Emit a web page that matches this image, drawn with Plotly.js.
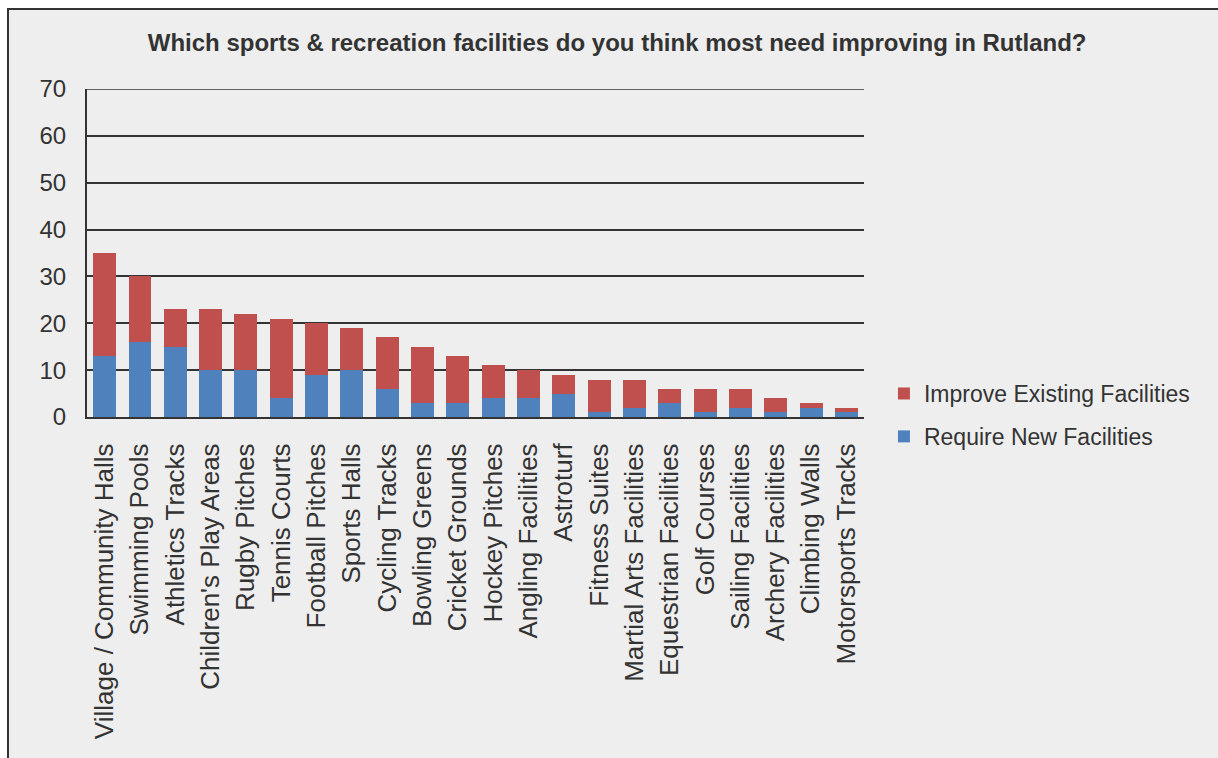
<!DOCTYPE html>
<html>
<head>
<meta charset="utf-8">
<script src="https://cdn.plot.ly/plotly-3.0.1.min.js"></script>
<style>
  html, body { margin: 0; padding: 0; background: #ffffff; width: 1218px; height: 758px; overflow: hidden; }
  #wrap { position: absolute; left: 7px; top: 8px; border-top: 2px solid #333; border-left: 2px solid #333; background: #eeeeee; }
  #chart { width: 1209px; height: 748px; }
</style>
</head>
<body>
<div id="wrap"><div id="chart"></div></div>
<script>
const categories = [
  "Village / Community Halls", "Swimming Pools", "Athletics Tracks", "Children's Play Areas",
  "Rugby Pitches", "Tennis Courts", "Football Pitches", "Sports Halls", "Cycling Tracks",
  "Bowling Greens", "Cricket Grounds", "Hockey Pitches", "Angling Facilities", "Astroturf",
  "Fitness Suites", "Martial Arts Facilities", "Equestrian Facilities", "Golf Courses",
  "Sailing Facilities", "Archery Facilities", "Climbing Walls", "Motorsports Tracks"
];
const requireNew = [13, 16, 15, 10, 10, 4, 9, 10, 6, 3, 3, 4, 4, 5, 1, 2, 3, 1, 2, 1, 2, 1];
const improveExisting = [22, 14, 8, 13, 12, 17, 11, 9, 11, 12, 10, 7, 6, 4, 7, 6, 3, 5, 4, 3, 1, 1];
const yTicks = [0, 10, 20, 30, 40, 50, 60, 70];

const FONT = "Liberation Sans, Arial, sans-serif";

const traces = [
  {
    type: "bar", name: "Require New Facilities", x: categories, y: requireNew,
    marker: { color: "#4F81BD" }, legendgroup: "b", legendrank: 2, hoverinfo: "x+y+name"
  },
  {
    type: "bar", name: "Improve Existing Facilities", x: categories, y: improveExisting,
    marker: { color: "#C0504D" }, legendgroup: "a", legendrank: 1, hoverinfo: "x+y+name"
  }
];

const layout = {
  width: 1209, height: 748,
  paper_bgcolor: "#eeeeee", plot_bgcolor: "#eeeeee",
  margin: { l: 78, r: 354, t: 79, b: 341 },
  barmode: "stack", bargap: 0.35,
  font: { family: FONT, color: "#333333" },
  title: {
    text: "<b>Which sports & recreation facilities do you think most need improving in Rutland?</b>",
    font: { family: FONT, size: 24, color: "#333333" },
    xref: "container", x: 0.503, xanchor: "center",
    yref: "container", y: 0.956, yanchor: "middle"
  },
  xaxis: {
    type: "category", tickangle: -90, showgrid: false,
    showline: true, linecolor: "#333333", linewidth: 2,
    ticks: "", tickfont: { family: FONT, size: 26, color: "#333333" },
    ticklabelstandoff: 14, fixedrange: true
  },
  yaxis: {
    range: [0, 70], tickvals: yTicks, ticktext: yTicks.map(String),
    showgrid: true, gridcolor: "#333333", gridwidth: 2,
    showline: true, linecolor: "#333333", linewidth: 2,
    zeroline: false, ticks: "",
    tickfont: { family: FONT, size: 24, color: "#333333" },
    ticklabelstandoff: 14, fixedrange: true
  },
  shapes: [
    { type: "line", xref: "paper", x0: 0, x1: 1, yref: "y", y0: 70, y1: 70,
      line: { color: "#333333", width: 1.5 } }
  ],
  showlegend: true,
  legend: {
    traceorder: "grouped", tracegroupgap: 10,
    xref: "container", x: 0.7237, xanchor: "left",
    yref: "container", y: 0.516, yanchor: "top",
    bgcolor: "rgba(0,0,0,0)",
    font: { family: FONT, size: 23, color: "#333333" }
  }
};

Plotly.newPlot("chart", traces, layout, { displayModeBar: false, staticPlot: true });
</script>
</body>
</html>
